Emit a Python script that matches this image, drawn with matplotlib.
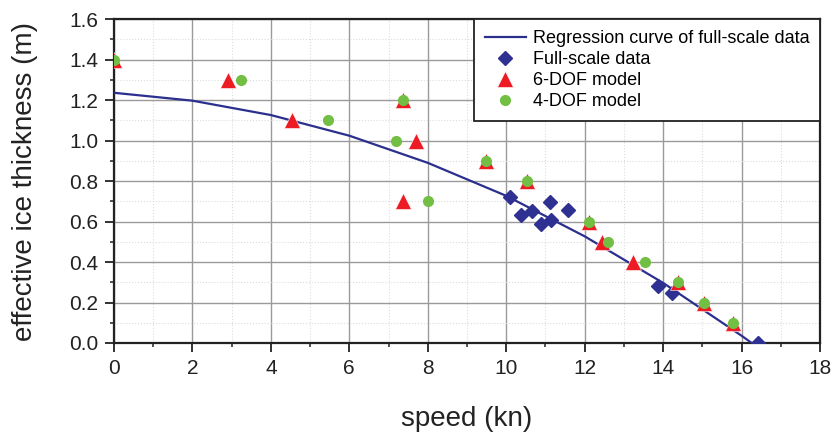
import numpy as np
import matplotlib
matplotlib.use("Agg")
import matplotlib.pyplot as plt
from matplotlib.ticker import MultipleLocator

plt.rcParams["font.family"] = ["Liberation Sans", "DejaVu Sans"]

# regression curve of full-scale data
curve_speed = [0, 2, 4, 6, 8, 10, 12, 14, 16, 16.26]
curve_thick = [1.236, 1.197, 1.126, 1.024, 0.890, 0.727, 0.527, 0.297, 0.036, 0.0]

# full-scale measurements
full_speed = [10.10, 10.38, 10.65, 10.89, 11.11, 11.14, 11.57, 13.88, 14.24, 16.41]
full_thick = [0.72, 0.632, 0.65, 0.586, 0.695, 0.606, 0.658, 0.283, 0.248, 0.0]

# 6-DOF model
dof6_speed = [0.0, 2.91, 4.54, 7.38, 7.69, 7.37, 9.49, 10.54, 12.11, 12.44, 13.24, 14.37, 15.05, 15.77]
dof6_thick = [1.4, 1.3, 1.1, 1.2, 1.0, 0.7, 0.9, 0.8, 0.6, 0.5, 0.4, 0.3, 0.2, 0.1]

# 4-DOF model
dof4_speed = [0.0, 3.23, 5.45, 7.18, 7.38, 8.0, 9.49, 10.54, 12.11, 12.59, 13.54, 14.37, 15.05, 15.77]
dof4_thick = [1.4, 1.3, 1.1, 1.0, 1.2, 0.7, 0.9, 0.8, 0.6, 0.5, 0.4, 0.3, 0.2, 0.1]

fig = plt.figure(figsize=(8.35, 4.34), dpi=100)
ax = fig.add_axes([0.1365, 0.2097, 0.8455, 0.7463])

ax.plot(curve_speed, curve_thick, color="#2b2f8e", lw=1.6, zorder=3,
        label="Regression curve of full-scale data")
ax.plot(full_speed, full_thick, ls="none", marker="D", ms=7.5, color="#2e3192",
        mec="#2e3192", zorder=4, label="Full-scale data")
ax.plot(dof6_speed, dof6_thick, ls="none", marker="^", ms=11, color="#ed1c24",
        mec="white", mew=0.4, zorder=5, label="6-DOF model")
ax.plot(dof4_speed, dof4_thick, ls="none", marker="o", ms=7, color="#72bf44",
        mec="#72bf44", zorder=6, label="4-DOF model")

ax.set_xlim(0, 18)
ax.set_ylim(0, 1.6)
ax.xaxis.set_major_locator(MultipleLocator(2))
ax.xaxis.set_minor_locator(MultipleLocator(1))
ax.yaxis.set_major_locator(MultipleLocator(0.2))
ax.yaxis.set_minor_locator(MultipleLocator(0.1))
ax.yaxis.set_major_formatter(plt.FormatStrFormatter("%.1f"))

ax.grid(which="major", color="#9a9a9a", lw=1.0, ls="-")
ax.grid(which="minor", color="#dcdcdc", lw=0.8, ls=":")
ax.set_axisbelow(True)

for s in ax.spines.values():
    s.set_linewidth(1.6)
    s.set_color("#222222")
ax.tick_params(which="major", direction="out", length=6.5, width=1.3,
               labelsize=15, pad=5, colors="#222222")
ax.tick_params(which="minor", direction="out", length=3, width=1.1, colors="#222222")

ax.set_xlabel("speed (kn)", fontsize=20, labelpad=20, color="#222222")
ax.set_ylabel("effective ice thickness (m)", fontsize=20, labelpad=22, color="#222222")

leg = ax.legend(loc="upper right", fontsize=13, frameon=True, fancybox=False,
                borderaxespad=0, handlelength=2.3, handletextpad=0.35,
                borderpad=0.6, labelspacing=0.22)
leg.get_frame().set_edgecolor("#222222")
leg.get_frame().set_linewidth(1.3)
leg.get_frame().set_alpha(1)

fig.savefig("out.png", dpi=100)
